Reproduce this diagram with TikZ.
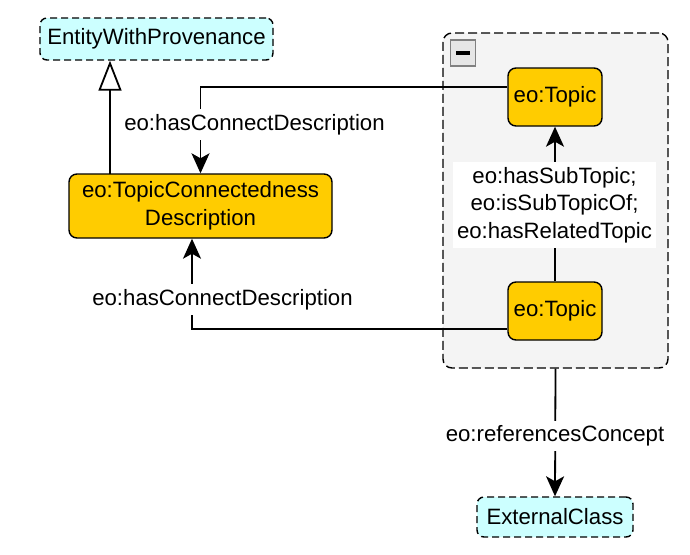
\documentclass[tikz,border=0pt]{standalone}
\usepackage{fontspec}
\setmainfont{Liberation Sans}
\usetikzlibrary{arrows.meta,positioning}

\definecolor{extfill}{HTML}{CCFFFF}
\definecolor{classfill}{HTML}{FFCC00}
\definecolor{groupfill}{HTML}{F4F4F4}
\definecolor{iconfill}{HTML}{E6E6E6}

\begin{document}
\begin{tikzpicture}[
    x=1pt,
    y=-1pt,
    font=\fontsize{22.2}{27.5}\selectfont,
    external/.style={draw=black,fill=extfill,dash pattern=on 7pt off 4pt,rounded corners=7pt,line width=1.4pt,inner sep=0pt},
    eoclass/.style={draw=black,fill=classfill,rounded corners=8pt,line width=1.4pt,align=center,inner sep=0pt},
    groupbox/.style={draw=black,fill=groupfill,dash pattern=on 9pt off 4pt,rounded corners=9pt,line width=1.4pt,inner sep=0pt},
    collapse/.style={draw=black!50,fill=iconfill,line width=1.8pt,minimum width=25pt,minimum height=26pt,inner sep=0pt},
    link/.style={-{Stealth[length=20pt,width=18pt,inset=5pt]},draw=black,line width=1.8pt},
    inherit/.style={-{Triangle[open,length=30pt,width=23pt,fill=white]},draw=black,line width=1.8pt},
    edgelabel/.style={fill=white,align=center,inner xsep=4pt,inner ysep=5pt}
  ]
    \useasboundingbox[fill=white] (0,0) rectangle (690,554);

    % collapsed-group frame
    \node[groupbox,minimum width=225pt,minimum height=335pt] (group) at (555.5,200.5) {};
    \node[collapse] (toggle) at (463,53) {};
    \draw[line width=4pt] ([xshift=-7pt]toggle.center) -- ([xshift=7pt]toggle.center);

    % classes
    \node[external,minimum width=233pt,minimum height=42pt] (entity) at (156.5,39) {EntityWithProvenance};
    \node[eoclass,minimum width=263pt,minimum height=64pt] (tcd) at (200.5,206) {eo:TopicConnectedness\\Description};
    \node[eoclass,minimum width=94pt,minimum height=58pt] (topicA) at (555,97) {eo:Topic};
    \node[eoclass,minimum width=94pt,minimum height=58pt] (topicB) at (555,311) {eo:Topic};
    \node[external,minimum width=156pt,minimum height=40pt] (extclass) at (555,517) {ExternalClass};

    % connectors
    \coordinate (inhfoot) at (110,174);
    \draw[inherit] (inhfoot) -- (inhfoot |- entity.south);
    \draw[link] ([yshift=10pt]topicA.west) -| (tcd.north);
    \draw[link] ([yshift=-18pt]topicB.west) -| ([xshift=-8.5pt]tcd.south);
    \draw[link] (topicB.north) -- (topicA.south);
    \draw[link] (group.south) -- (extclass.north);

    % labels
    \node[edgelabel] (connlblA) at (254.5,124.5) {eo:hasConnectDescription};
    \node[edgelabel] (connlblB) at (222.5,299.5) {eo:hasConnectDescription};
    \node[edgelabel] (sublbl) at (554.5,205) {eo:hasSubTopic;\\eo:isSubTopicOf;\\eo:hasRelatedTopic};
    \node[edgelabel] (reflbl) at (555,436) {eo:referencesConcept};
\end{tikzpicture}
\end{document}
